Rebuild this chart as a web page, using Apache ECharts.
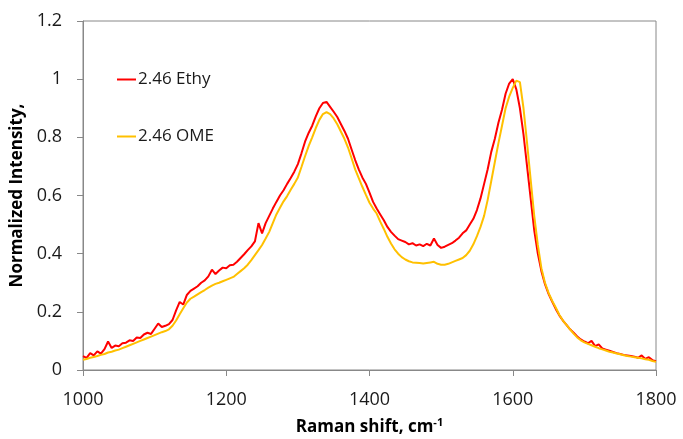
<!DOCTYPE html>
<html>
<head>
<meta charset="utf-8">
<script src="https://cdn.jsdelivr.net/npm/echarts@6/dist/echarts.min.js"></script>
<style>
  html, body { margin: 0; padding: 0; background: #fff; }
  #chart { width: 683px; height: 439px; }
</style>
</head>
<body>
<div id="chart"></div>
<script>
// Raman shift grid (cm-1), one reading every 5 cm-1
var shiftStart = 1000;
var shiftStep = 5;

var seriesNames = ["2.46 Ethy", "2.46 OME"];

// 2.46 Ethy, normalized intensity
var ethy = [
  0.048, 0.042, 0.058, 0.050, 0.064, 0.056, 0.072, 0.098, 0.076, 0.084,
  0.082, 0.092, 0.094, 0.102, 0.100, 0.112, 0.110, 0.122, 0.128, 0.124,
  0.142, 0.160, 0.148, 0.152, 0.158, 0.172, 0.205, 0.234, 0.225, 0.258,
  0.272, 0.280, 0.288, 0.300, 0.308, 0.322, 0.345, 0.330, 0.342, 0.352,
  0.350, 0.360, 0.362, 0.372, 0.385, 0.398, 0.412, 0.425, 0.442, 0.505,
  0.470, 0.505, 0.530, 0.555, 0.578, 0.600, 0.618, 0.640, 0.660, 0.682,
  0.708, 0.745, 0.785, 0.815, 0.840, 0.872, 0.900, 0.918, 0.922, 0.905,
  0.888, 0.870, 0.846, 0.822, 0.795, 0.758, 0.722, 0.690, 0.662, 0.640,
  0.610, 0.578, 0.555, 0.535, 0.515, 0.492, 0.475, 0.462, 0.450, 0.445,
  0.440, 0.432, 0.436, 0.428, 0.432, 0.426, 0.434, 0.428, 0.452, 0.430,
  0.420, 0.424, 0.430, 0.436, 0.445, 0.455, 0.470, 0.480, 0.500, 0.520,
  0.550, 0.590, 0.640, 0.690, 0.750, 0.795, 0.850, 0.895, 0.950, 0.985,
  1.000, 0.965, 0.900, 0.810, 0.700, 0.590, 0.480, 0.400, 0.340, 0.295,
  0.262, 0.235, 0.210, 0.188, 0.170, 0.155, 0.140, 0.128, 0.115, 0.105,
  0.098, 0.092, 0.100, 0.082, 0.088, 0.074, 0.070, 0.066, 0.062, 0.058,
  0.055, 0.052, 0.050, 0.048, 0.046, 0.042, 0.050, 0.038, 0.044, 0.034,
  0.030
];

// 2.46 OME, normalized intensity
var ome = [
  0.035, 0.038, 0.042, 0.045, 0.048, 0.052, 0.055, 0.060, 0.063, 0.067,
  0.070, 0.075, 0.080, 0.085, 0.090, 0.095, 0.100, 0.105, 0.110, 0.115,
  0.120, 0.125, 0.130, 0.134, 0.140, 0.152, 0.170, 0.192, 0.212, 0.232,
  0.245, 0.252, 0.260, 0.268, 0.275, 0.283, 0.290, 0.296, 0.300, 0.305,
  0.310, 0.315, 0.320, 0.330, 0.340, 0.350, 0.362, 0.378, 0.395, 0.412,
  0.430, 0.452, 0.475, 0.505, 0.535, 0.558, 0.580, 0.598, 0.620, 0.640,
  0.662, 0.698, 0.735, 0.770, 0.800, 0.832, 0.860, 0.880, 0.887, 0.880,
  0.865, 0.845, 0.820, 0.795, 0.765, 0.728, 0.690, 0.660, 0.630, 0.602,
  0.575, 0.555, 0.538, 0.510, 0.485, 0.458, 0.435, 0.415, 0.400, 0.388,
  0.380, 0.374, 0.370, 0.369, 0.368, 0.366, 0.368, 0.370, 0.372, 0.365,
  0.362, 0.362, 0.365, 0.370, 0.375, 0.380, 0.385, 0.395, 0.410, 0.432,
  0.460, 0.492, 0.530, 0.585, 0.650, 0.715, 0.780, 0.840, 0.900, 0.940,
  0.970, 0.995, 0.990, 0.900, 0.780, 0.655, 0.530, 0.430, 0.350, 0.300,
  0.265, 0.238, 0.215, 0.190, 0.170, 0.155, 0.140, 0.125, 0.112, 0.102,
  0.095, 0.090, 0.085, 0.080, 0.075, 0.071, 0.067, 0.063, 0.060, 0.057,
  0.054, 0.051, 0.048, 0.046, 0.044, 0.042, 0.040, 0.037, 0.035, 0.031,
  0.028
];

// axis ranges
var xMin = 1000, xMax = 1800, xInterval = 200;
var yMin = 0, yMax = 1.2, yInterval = 0.2;

function toPairs(values) {
  return values.map(function (v, i) {
    return [shiftStart + i * shiftStep, v];
  });
}

var font = "'Open Sans', 'Liberation Sans', sans-serif";
var axisGrey = "#888888";

var chart = echarts.init(document.getElementById("chart"));
chart.setOption({
  animation: false,
  backgroundColor: "#fff",
  textStyle: { fontFamily: font },
  grid: {
    left: 83,
    right: 27,
    top: 21,
    bottom: 69,
    containLabel: false,
    outerBoundsMode: "none",
    show: true,
    borderColor: axisGrey,
    borderWidth: 1
  },
  legend: {
    orient: "vertical",
    left: 112,
    top: 66,
    itemGap: 40,
    itemWidth: 19,
    itemHeight: 2,
    icon: "rect",
    textStyle: { fontFamily: font, fontSize: 17, color: "#1a1a1a", padding: [0, 0, 0, -3] },
    data: seriesNames
  },
  xAxis: {
    type: "value",
    min: xMin,
    max: xMax,
    interval: xInterval,
    name: "{a|Raman shift, cm}{b|-1}",
    nameLocation: "middle",
    nameGap: 47,
    nameTextStyle: {
      rich: {
        a: { fontFamily: font, fontSize: 17, fontWeight: "bold", color: "#000" },
        b: { fontFamily: font, fontSize: 11, fontWeight: "bold", color: "#000", padding: [0, 0, 9, 0] }
      }
    },
    axisLine: { show: true, lineStyle: { color: axisGrey, width: 1 } },
    axisTick: { show: true, length: 6, lineStyle: { color: axisGrey } },
    axisLabel: {
      fontFamily: font,
      fontSize: 18,
      color: "#1a1a1a",
      margin: 21,
      formatter: function (v) { return String(v); }
    },
    splitLine: { show: false }
  },
  yAxis: {
    type: "value",
    min: yMin,
    max: yMax,
    interval: yInterval,
    name: "Normalized Intensity,",
    nameLocation: "middle",
    nameGap: 55,
    nameTextStyle: { fontFamily: font, fontSize: 17, fontWeight: "bold", color: "#000" },
    axisLine: { show: true, lineStyle: { color: axisGrey, width: 1 } },
    axisTick: { show: true, length: 6, lineStyle: { color: axisGrey } },
    axisLabel: { fontFamily: font, fontSize: 18, color: "#1a1a1a", margin: 21 },
    splitLine: { show: false }
  },
  series: [
    {
      name: seriesNames[0],
      type: "line",
      showSymbol: false,
      color: "#ff0000",
      lineStyle: { width: 2, color: "#ff0000" },
      data: toPairs(ethy)
    },
    {
      name: seriesNames[1],
      type: "line",
      showSymbol: false,
      color: "#ffc000",
      lineStyle: { width: 2, color: "#ffc000" },
      data: toPairs(ome)
    }
  ]
});
</script>
</body>
</html>
